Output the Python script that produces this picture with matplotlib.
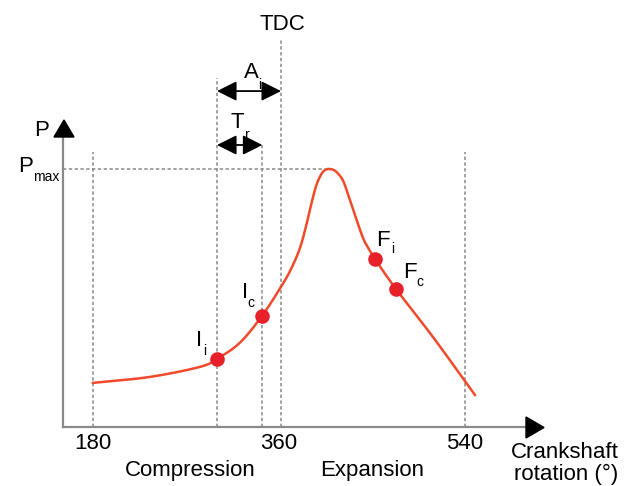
import matplotlib
matplotlib.use("Agg")
import numpy as np
import matplotlib.pyplot as plt
from matplotlib.patches import Polygon

plt.rcParams['font.family'] = ['Liberation Sans', 'DejaVu Sans']

# curve: crank angle (deg) vs pressure (P / Pmax)
angle = [180, 235, 283.5, 300, 322, 343.5, 363, 372, 380, 386, 391, 396, 401,
         405, 409, 413, 417, 422, 427, 432, 441, 447, 452.9, 473.2, 509, 549.7]
press = [0.171, 0.194, 0.233, 0.264, 0.326, 0.430, 0.550, 0.615, 0.690, 0.775, 0.860, 0.935, 0.980,
         0.997, 1.0, 0.996, 0.983, 0.955, 0.900, 0.840, 0.736, 0.690, 0.651, 0.535, 0.349, 0.124]

# marked points Ii, Ic, Fi, Fc
pt_angle = [300, 343.5, 452.9, 473.2]
pt_press = [0.264, 0.430, 0.651, 0.535]

# vertical guide lines: angle and top (P units)
guide_angle = [180, 300, 344, 362, 540]
guide_top = [1.066, 1.353, 1.10, 1.508, 1.066]
tick_angle = [180, 360, 540]
tick_text = ['180', '360', '540']
pmax = 1.0

W, H = 634, 486
fig = plt.figure(figsize=(W / 100, H / 100), dpi=100)
ax = fig.add_axes([0, 0, 1, 1])
ax.set_xlim(90, 703.6)
ax.set_ylim(-0.2287, 1.655)
ax.axis('off')


def fp(x, y):
    # pixel position -> figure fraction
    return (x / W, 1 - y / H)


def smooth(xs, ys, n=20):
    # catmull-rom through the read points, only to draw a round line
    xs = np.asarray(xs, float)
    ys = np.asarray(ys, float)
    px = np.concatenate([[2 * xs[0] - xs[1]], xs, [2 * xs[-1] - xs[-2]]])
    py = np.concatenate([[2 * ys[0] - ys[1]], ys, [2 * ys[-1] - ys[-2]]])
    ox, oy = [], []
    t = np.linspace(0, 1, n, endpoint=False)
    for i in range(1, len(px) - 2):
        for p, o in ((px, ox), (py, oy)):
            p0, p1, p2, p3 = p[i - 1], p[i], p[i + 1], p[i + 2]
            o.extend(0.5 * (2 * p1 + (-p0 + p2) * t + (2 * p0 - 5 * p1 + 4 * p2 - p3) * t ** 2
                            + (-p0 + 3 * p1 - 3 * p2 + p3) * t ** 3))
    ox.append(xs[-1])
    oy.append(ys[-1])
    return ox, oy


gray = '#8a8a8a'
for a, top in zip(guide_angle, guide_top):
    ax.plot([a, a], [0, top], color=gray, lw=1.1, ls=(0, (2.2, 1.6)), zorder=1)
ax.plot([151, 405], [pmax, pmax], color=gray, lw=1.1, ls=(0, (2.2, 1.6)), zorder=1)

cx, cy = smooth(angle, press)
ax.plot(cx, cy, color='#f04a2a', lw=1.8, zorder=3)
ax.plot(pt_angle, pt_press, 'o', color='#e8202a', ms=10.5, mec='none', zorder=4)

# axes with arrow heads
ax.plot([151, 600], [0, 0], color=gray, lw=1.6, zorder=2)
ax.plot([151, 151], [0, 1.12], color=gray, lw=1.6, zorder=2)
fig.patches.append(Polygon([fp(54, 137), fp(74, 137), fp(64, 120)], closed=True,
                           color='black', transform=fig.transFigure))
fig.patches.append(Polygon([fp(526, 417), fp(526, 438), fp(544, 427.5)], closed=True,
                           color='black', transform=fig.transFigure))

# double arrows A_i and T_r
arr = dict(arrowstyle='<|-|>,head_length=0.8,head_width=0.4', color='black', lw=1.3,
           shrinkA=0, shrinkB=0, mutation_scale=15)
ax.annotate('', xy=(300, 1.302), xytext=(362, 1.302), arrowprops=arr)
ax.annotate('', xy=(300, 1.093), xytext=(344, 1.093), arrowprops=arr)

fs = 16
tr = ax.get_xaxis_transform()
for a, s in zip(tick_angle, tick_text):
    ax.text(a, 1 - 443 / H, s, transform=tr, ha='center', va='center', fontsize=fs)


def label(x, y, s, sub, dx, dy, size=fs):
    fig.text(*fp(x, y), s, ha='center', va='center', fontsize=size)
    fig.text(*fp(x + dx, y + dy), sub, ha='center', va='center', fontsize=10)


fig.text(*fp(282, 25), 'TDC', ha='center', va='center', fontsize=fs)
label(251, 73, 'A', 'i', 9, 12)
label(237, 122, 'T', 'r', 10, 13)
label(199, 340, 'I', 'i', 6, 11)
label(245, 292, 'I', 'c', 6, 11)
label(383, 240, 'F', 'i', 10, 9)
label(410, 272, 'F', 'c', 10, 10)
fig.text(*fp(42, 131), 'P', ha='center', va='center', fontsize=fs)
fig.text(*fp(26, 166), 'P', ha='center', va='center', fontsize=fs)
fig.text(*fp(46, 177), 'max', ha='center', va='center', fontsize=10)

fig.text(*fp(190, 470), 'Compression', ha='center', va='center', fontsize=fs)
fig.text(*fp(372, 470), 'Expansion', ha='center', va='center', fontsize=fs)
fig.text(*fp(565, 452), 'Crankshaft', ha='center', va='center', fontsize=fs)
fig.text(*fp(566, 474), 'rotation (°)', ha='center', va='center', fontsize=fs)

fig.savefig('out.png', dpi=100)
